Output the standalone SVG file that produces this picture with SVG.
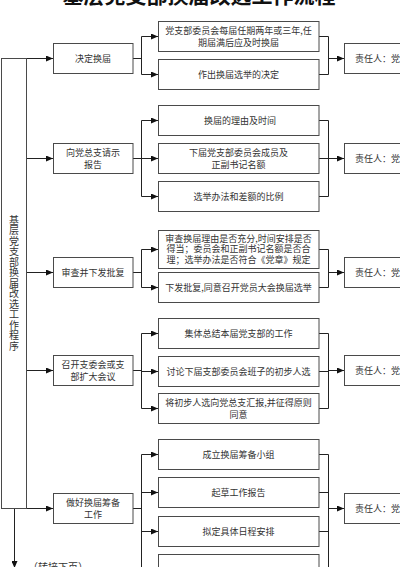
<svg xmlns="http://www.w3.org/2000/svg" width="400" height="567" viewBox="0 0 400 567">
<style>
.box{fill:#fff;stroke:#4a4a4a;stroke-width:1}
.t{font-family:"Noto Sans CJK SC","Noto Sans",sans-serif;font-size:9px;fill:#333;text-anchor:middle}
.v{font-family:"Noto Sans CJK SC","Noto Sans",sans-serif;font-size:10px;fill:#333;text-anchor:middle;writing-mode:vertical-rl;letter-spacing:0.5px}
.c{fill:none;stroke:#222;stroke-width:1}
.a{fill:none;stroke:#222;stroke-width:1;marker-end:url(#ah)}
</style>
<defs>
<marker id="ah" markerUnits="userSpaceOnUse" markerWidth="8" markerHeight="6" refX="7" refY="3" orient="auto">
<path d="M0,0 L7,3 L0,6 z" fill="#111"/>
</marker>
</defs>
<rect width="400" height="567" fill="#fff"/>
<text x="199" y="2.5" style="font-family:'Noto Sans CJK SC',sans-serif;font-size:21px;font-weight:bold;fill:#111;text-anchor:middle">基层党支部换届改选工作流程</text>

<g id="connectors">
<path class="a" d="M26.5,58.5 H53"/>
<path class="a" d="M26.5,158.5 H53"/>
<path class="a" d="M26.5,272.5 H53"/>
<path class="a" d="M26.5,370.5 H53"/>
<path class="a" d="M1.5,508.5 H53"/>
<path class="a" d="M14.5,508.5 V568"/>
<path class="c" d="M133,58.5 H141.5 M141.5,36.5 V74.5"/>
<path class="a" d="M141.5,36.5 H158"/>
<path class="a" d="M141.5,74.5 H158"/>
<path class="c" d="M319,36.5 H328.5 M319,74.5 H328.5 M328.5,36.5 V74.5"/>
<path class="a" d="M328.5,58.5 H344"/>
<path class="c" d="M133,158.5 H141.5 M141.5,120.5 V196.5"/>
<path class="a" d="M141.5,120.5 H158"/>
<path class="a" d="M141.5,158.5 H158"/>
<path class="a" d="M141.5,196.5 H158"/>
<path class="c" d="M319,120.5 H328.5 M319,158.5 H328.5 M319,196.5 H328.5 M328.5,120.5 V196.5"/>
<path class="a" d="M328.5,158.5 H344"/>
<path class="c" d="M133,272.5 H141.5 M141.5,249.5 V287.5"/>
<path class="a" d="M141.5,249.5 H158"/>
<path class="a" d="M141.5,287.5 H158"/>
<path class="c" d="M319,249.5 H328.5 M319,287.5 H328.5 M328.5,249.5 V287.5"/>
<path class="a" d="M328.5,272.5 H344"/>
<path class="c" d="M133,370.5 H141.5 M141.5,333.5 V408.5"/>
<path class="a" d="M141.5,333.5 H158"/>
<path class="a" d="M141.5,371.5 H158"/>
<path class="a" d="M141.5,408.5 H158"/>
<path class="c" d="M319,333.5 H328.5 M319,371.5 H328.5 M319,408.5 H328.5 M328.5,333.5 V408.5"/>
<path class="a" d="M328.5,370.5 H344"/>
<path class="c" d="M133,508.5 H141.5 M141.5,454.5 V580"/>
<path class="a" d="M141.5,454.5 H158"/>
<path class="a" d="M141.5,492.5 H158"/>
<path class="a" d="M141.5,531.5 H158"/>
<path class="a" d="M141.5,569.5 H158"/>
<path class="c" d="M319,454.5 H328.5 M319,492.5 H328.5 M319,531.5 H328.5 M319,569.5 H328.5 M328.5,454.5 V580"/>
<path class="a" d="M328.5,508.5 H344"/>
</g>

<g id="root">
<rect class="box" x="1.5" y="58.5" width="25" height="450"/>
<text class="v" x="14" y="283">基层党支部换届改选工作程序</text>
</g>
<text x="28" y="570.5" style="font-family:'Noto Sans CJK SC',sans-serif;font-size:10px;fill:#333">（转接下页）</text>

<g id="step1"><rect class="box" x="53.5" y="43.5" width="79.5" height="30"/><text class="t" x="93" y="61.8">决定换届</text></g>
<g id="step2"><rect class="box" x="53.5" y="143.5" width="79.5" height="30"/><text class="t" x="93" y="156">向党总支请示</text><text class="t" x="93" y="167.5">报告</text></g>
<g id="step3"><rect class="box" x="53.5" y="257.5" width="79.5" height="30"/><text class="t" x="93" y="275.8">审查并下发批复</text></g>
<g id="step4"><rect class="box" x="53.5" y="355.5" width="79.5" height="30"/><text class="t" x="93" y="367.8">召开支委会或支</text><text class="t" x="93" y="379.8">部扩大会议</text></g>
<g id="step5"><rect class="box" x="53.5" y="493.5" width="79.5" height="30"/><text class="t" x="93" y="505.8">做好换届筹备</text><text class="t" x="93" y="517.8">工作</text></g>

<g id="a1"><rect class="box" x="158.5" y="21.5" width="160.5" height="30"/><text class="t" x="238.5" y="34.3">党支部委员会每届任期两年或三年,任</text><text class="t" x="238.5" y="45.8">期届满后应及时换届</text></g>
<g id="a2"><rect class="box" x="158.5" y="59.5" width="160.5" height="30"/><text class="t" x="238.5" y="77.8">作出换届选举的决定</text></g>
<g id="b1"><rect class="box" x="158.5" y="105.5" width="160.5" height="30"/><text class="t" x="240" y="123.8">换届的理由及时间</text></g>
<g id="b2"><rect class="box" x="158.5" y="143.5" width="160.5" height="30"/><text class="t" x="238.5" y="156.3">下届党支部委员会成员及</text><text class="t" x="238.5" y="167.8">正副书记名额</text></g>
<g id="b3"><rect class="box" x="158.5" y="181.5" width="160.5" height="30"/><text class="t" x="238.5" y="199.8">选举办法和差额的比例</text></g>
<g id="c1"><rect class="box" x="158.5" y="230.5" width="160.5" height="38"/><text class="t" x="238.5" y="241.8"><tspan x="238.5">审查换届理由是否充分,时间安排是否</tspan><tspan x="238.5" dy="10.5">得当；委员会和正副书记名额是否合</tspan><tspan x="238.5" dy="10.5">理；选举办法是否符合《党章》规定</tspan></text></g>
<g id="c2"><rect class="box" x="158.5" y="272.5" width="160.5" height="30"/><text class="t" x="238.5" y="290.8">下发批复,同意召开党员大会换届选举</text></g>
<g id="d1"><rect class="box" x="158.5" y="318.5" width="160.5" height="30"/><text class="t" x="238.5" y="336.8">集体总结本届党支部的工作</text></g>
<g id="d2"><rect class="box" x="158.5" y="356.5" width="160.5" height="30"/><text class="t" x="238.5" y="374.8">讨论下届支部委员会班子的初步人选</text></g>
<g id="d3"><rect class="box" x="158.5" y="393.5" width="160.5" height="30"/><text class="t" x="238.5" y="406.3">将初步人选向党总支汇报,并征得原则</text><text class="t" x="238.5" y="417.8">同意</text></g>
<g id="e1"><rect class="box" x="158.5" y="439.5" width="160.5" height="30"/><text class="t" x="238.5" y="457.8">成立换届筹备小组</text></g>
<g id="e2"><rect class="box" x="158.5" y="477.5" width="160.5" height="30"/><text class="t" x="238.5" y="495.8">起草工作报告</text></g>
<g id="e3"><rect class="box" x="158.5" y="516.5" width="160.5" height="30"/><text class="t" x="238.5" y="534.8">拟定具体日程安排</text></g>
<g id="e4"><rect class="box" x="158.5" y="554.5" width="160.5" height="30"/></g>

<g id="r1"><rect class="box" x="344.5" y="43.5" width="80" height="30"/><text class="t" x="355" y="61.8" style="text-anchor:start">责任人：党支部</text></g>
<g id="r2"><rect class="box" x="344.5" y="143.5" width="80" height="30"/><text class="t" x="355" y="161.8" style="text-anchor:start">责任人：党支部</text></g>
<g id="r3"><rect class="box" x="344.5" y="257.5" width="80" height="30"/><text class="t" x="355" y="275.8" style="text-anchor:start">责任人：党支部</text></g>
<g id="r4"><rect class="box" x="344.5" y="355.5" width="80" height="30"/><text class="t" x="355" y="373.8" style="text-anchor:start">责任人：党支部</text></g>
<g id="r5"><rect class="box" x="344.5" y="493.5" width="80" height="30"/><text class="t" x="355" y="511.8" style="text-anchor:start">责任人：党支部</text></g>
</svg>
